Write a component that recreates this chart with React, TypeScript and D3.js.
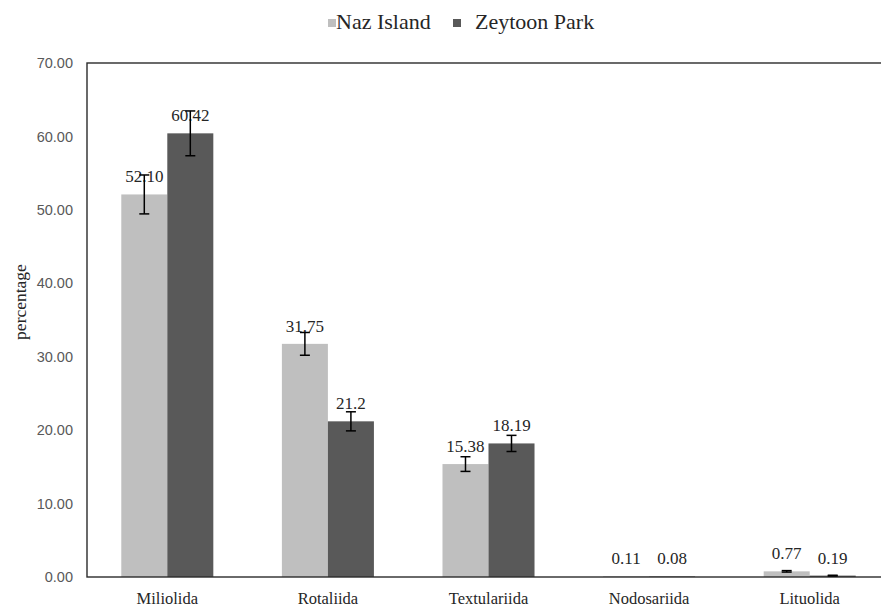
import { useEffect, useRef } from 'react';
import * as d3 from 'd3';

const categories = ['Miliolida', 'Rotaliida', 'Textulariida', 'Nodosariida', 'Lituolida'];
const seriesNames = ['Naz Island', 'Zeytoon Park'];
const nazValues = [52.1, 31.75, 15.38, 0.11, 0.77];
const zeytoonValues = [60.42, 21.2, 18.19, 0.08, 0.19];
const nazErrors = [2.65, 1.55, 1.0, 0, 0.1];
const zeytoonErrors = [3.05, 1.3, 1.1, 0, 0.05];
const nazLabels = ['52.10', '31.75', '15.38', '0.11', '0.77'];
const zeytoonLabels = ['60.42', '21.2', '18.19', '0.08', '0.19'];
const yTicks = [0, 10, 20, 30, 40, 50, 60, 70];

const colors = ['#bfbfbf', '#595959'];

interface Bar {
  cat: string;
  series: string;
  value: number;
  err: number;
  label: string;
  color: string;
}

export default function App() {
  const ref = useRef<SVGSVGElement>(null);

  useEffect(() => {
    if (!ref.current) return;
    const svg = d3.select(ref.current);
    svg.selectAll('*').remove();

    const width = 881;
    const height = 607;
    const plot = { left: 87, top: 63, right: 890, bottom: 577 };
    const serif = "'Liberation Serif', 'DejaVu Serif', serif";

    const bars: Bar[] = [];
    categories.forEach((c, i) => {
      bars.push({ cat: c, series: seriesNames[0], value: nazValues[i], err: nazErrors[i], label: nazLabels[i], color: colors[0] });
      bars.push({ cat: c, series: seriesNames[1], value: zeytoonValues[i], err: zeytoonErrors[i], label: zeytoonLabels[i], color: colors[1] });
    });

    const x = d3.scaleBand().domain(categories).range([plot.left, plot.right]).padding(0);
    const xs = d3
      .scaleBand()
      .domain(seriesNames)
      .range([0, x.bandwidth()])
      .paddingInner(0)
      .paddingOuter(0.745);
    const y = d3.scaleLinear().domain([0, 70]).range([plot.bottom, plot.top]);

    svg.attr('viewBox', `0 0 ${width} ${height}`);

    svg.append('rect')
      .attr('width', width)
      .attr('height', height)
      .attr('fill', '#fff');

    // y tick labels
    svg.append('g')
      .selectAll('text')
      .data(yTicks)
      .join('text')
      .attr('x', 73)
      .attr('y', d => y(d))
      .attr('dy', '0.35em')
      .attr('text-anchor', 'end')
      .attr('font-family', "'Liberation Sans', Arial, sans-serif")
      .attr('font-size', 14.5)
      .attr('fill', '#595959')
      .text(d => d3.format('.2f')(d));

    // bars
    svg.append('g')
      .selectAll('rect')
      .data(bars)
      .join('rect')
      .attr('x', d => x(d.cat)! + xs(d.series)!)
      .attr('width', xs.bandwidth())
      .attr('y', d => y(d.value))
      .attr('height', d => y(0) - y(d.value))
      .attr('fill', d => d.color);

    // plot border
    svg.append('rect')
      .attr('x', plot.left)
      .attr('y', plot.top)
      .attr('width', plot.right - plot.left)
      .attr('height', plot.bottom - plot.top)
      .attr('fill', 'none')
      .attr('stroke', '#2b2b2b')
      .attr('stroke-width', 1.4);

    // value labels
    svg.append('g')
      .selectAll('text')
      .data(bars)
      .join('text')
      .attr('x', d => x(d.cat)! + xs(d.series)! + xs.bandwidth() / 2)
      .attr('y', d => y(d.value) - 12)
      .attr('text-anchor', 'middle')
      .attr('font-family', serif)
      .attr('font-size', 17)
      .attr('fill', '#262626')
      .text(d => d.label);

    // error bars
    const eb = svg.append('g')
      .selectAll('g')
      .data(bars.filter(d => d.err > 0))
      .join('g')
      .attr('stroke', '#000')
      .attr('stroke-width', 1.5);
    const cx = (d: Bar) => x(d.cat)! + xs(d.series)! + xs.bandwidth() / 2;
    eb.append('line')
      .attr('x1', cx)
      .attr('x2', cx)
      .attr('y1', d => y(d.value + d.err))
      .attr('y2', d => y(d.value - d.err));
    [1, -1].forEach(s => {
      eb.append('line')
        .attr('x1', d => cx(d) - 5)
        .attr('x2', d => cx(d) + 5)
        .attr('y1', d => y(d.value + s * d.err))
        .attr('y2', d => y(d.value + s * d.err));
    });

    // category labels
    svg.append('g')
      .selectAll('text')
      .data(categories)
      .join('text')
      .attr('x', d => x(d)! + x.bandwidth() / 2)
      .attr('y', 604)
      .attr('text-anchor', 'middle')
      .attr('font-family', serif)
      .attr('font-size', 16.5)
      .attr('fill', '#262626')
      .text(d => d);

    // axis title
    svg.append('text')
      .attr('transform', 'translate(26,302) rotate(-90)')
      .attr('text-anchor', 'middle')
      .attr('font-family', serif)
      .attr('font-size', 17.5)
      .attr('fill', '#262626')
      .text('percentage');

    // legend
    const legendX = [328, 453];
    const textGap = [8, 22];
    const lg = svg.append('g')
      .selectAll('g')
      .data(seriesNames)
      .join('g')
      .attr('transform', (_, i) => `translate(${legendX[i]},0)`);
    lg.append('rect')
      .attr('x', 0)
      .attr('y', 19)
      .attr('width', 8)
      .attr('height', 8)
      .attr('fill', (_, i) => colors[i]);
    lg.append('text')
      .attr('x', (_, i) => textGap[i])
      .attr('y', 29)
      .attr('font-family', serif)
      .attr('font-size', 22)
      .attr('fill', '#262626')
      .text(d => d);
  }, []);

  return (
    <svg
      ref={ref}
      width={881}
      height={607}
      style={{ position: 'absolute', left: 0, top: 0, display: 'block' }}
    />
  );
}
